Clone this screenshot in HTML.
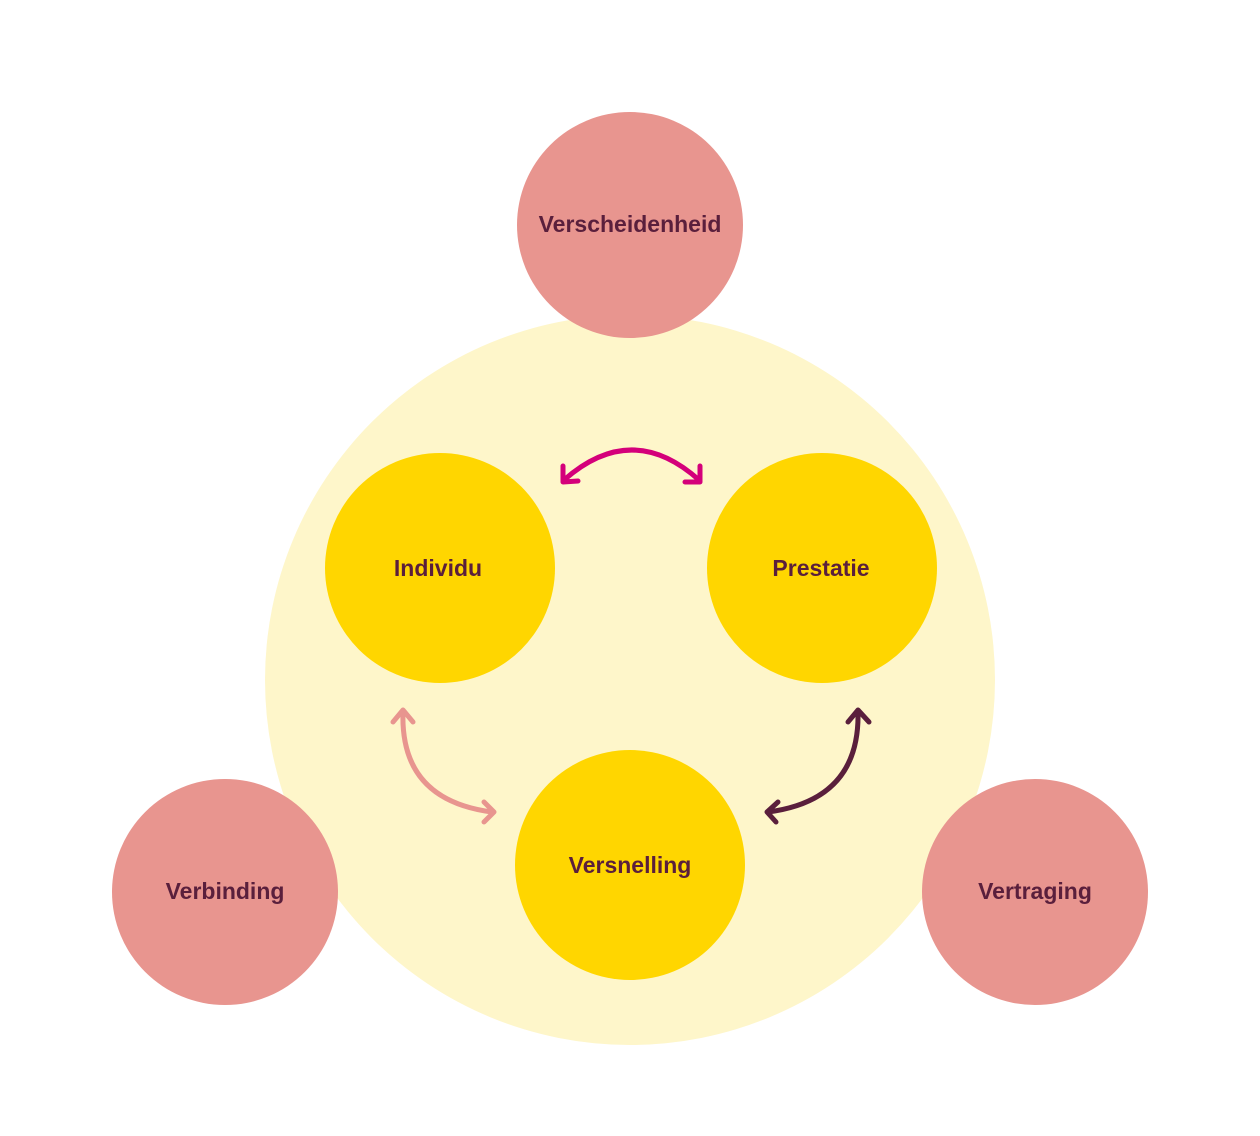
<!DOCTYPE html>
<html><head><meta charset="utf-8"><style>
html,body{margin:0;padding:0;background:#fff;width:1260px;height:1136px;overflow:hidden}
svg text{font-family:"Liberation Sans",sans-serif;font-weight:bold;font-size:23px;fill:#5a1f3c;text-anchor:middle}
</style></head><body>
<svg width="1260" height="1136" viewBox="0 0 1260 1136" xmlns="http://www.w3.org/2000/svg">
<circle cx="630" cy="680" r="365" fill="#fef6ca"/>
<circle cx="630" cy="225" r="113" fill="#e8958f"/>
<circle cx="225" cy="892" r="113" fill="#e8958f"/>
<circle cx="1035" cy="892" r="113" fill="#e8958f"/>
<circle cx="440" cy="568" r="115" fill="#ffd600"/>
<circle cx="822" cy="568" r="115" fill="#ffd600"/>
<circle cx="630" cy="865" r="115" fill="#ffd600"/>
<text x="630" y="232">Verscheidenheid</text>
<text x="225" y="899">Verbinding</text>
<text x="1035" y="899">Vertraging</text>
<text x="438" y="576">Individu</text>
<text x="821" y="576">Prestatie</text>
<text x="630" y="873">Versnelling</text>
<g fill="none" stroke-width="5" stroke-linecap="round" stroke-linejoin="round">
<path d="M564 480 Q632 420 699 480" stroke="#d4007a"/>
<path d="M563 466 L563 482 L578 481" stroke="#d4007a"/>
<path d="M700 466 L700 482 L685 482" stroke="#d4007a"/>
<path d="M403 712 Q400 800 492 812" stroke="#e8958f"/>
<path d="M393 722 L403 710 L413 722" stroke="#e8958f"/>
<path d="M484 802 L494 812 L484 822" stroke="#e8958f"/>
<path d="M858 712 Q860 800 768 812" stroke="#5a1f3c"/>
<path d="M848 722 L858 710 L869 722" stroke="#5a1f3c"/>
<path d="M778 802 L767 812 L776 822" stroke="#5a1f3c"/>
</g>
</svg>
</body></html>
